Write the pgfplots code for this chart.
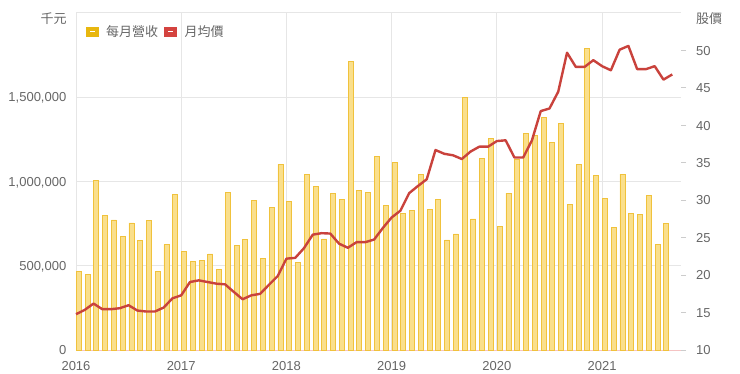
\documentclass[border=0pt]{standalone}
\usepackage{fontspec}
\setmainfont{Liberation Sans}
\newfontfamily\cjk{Noto Sans CJK TC}
\usepackage{pgfplots}
\pgfplotsset{compat=1.18}
\definecolor{txt}{HTML}{666666}
\definecolor{gridc}{HTML}{E6E6E6}
\definecolor{barfill}{HTML}{FADF8C}
\definecolor{barline}{HTML}{F0C23C}
\definecolor{legy}{HTML}{E8B70F}
\definecolor{legr}{HTML}{D4433F}
\definecolor{linec}{HTML}{C9423C}
\definecolor{basec}{HTML}{F5C3C3}
\definecolor{tickc}{HTML}{CCCCCC}
\begin{document}
\begin{tikzpicture}[x=1bp,y=1bp]
\useasboundingbox (0,0) rectangle (740,373);
\begin{axis}[
  at={(76bp,23bp)}, anchor=south west, scale only axis,
  width=605bp, height=337bp,
  xmin=0, xmax=69, ymin=0, ymax=2000000,
  axis x line*=bottom, axis y line*=left,
  x axis line style={draw=basec, line width=1bp, -},
  y axis line style={draw=none},
  xtick={0,12,24,36,48,60},
  xticklabels={2016,2017,2018,2019,2020,2021},
  ytick={0,500000,1000000,1500000,2000000},
  yticklabels={0,{500,000},{1,000,000},{1,500,000},{}},
  major tick length=0pt,
  grid=major, grid style={draw=gridc, line width=1bp},
  tick label style={font=\fontsize{13bp}{15bp}\selectfont, text=txt},
  yticklabel style={anchor=base east, inner sep=0pt, xshift=-9.5bp, yshift=-4.7bp},
  xticklabel style={anchor=north, inner sep=0pt, yshift=-11.5bp},
  ybar, bar width=5bp, bar shift=2.8bp,
  scaled y ticks=false,
]
\addplot[draw=barline, fill=barfill, line width=0.8bp] table[x=m, y=v] {
m v
0 467000
1 450000
2 1006000
3 798000
4 772000
5 673000
6 754000
7 648000
8 770000
9 467000
10 626000
11 925000
12 584000
13 523000
14 531000
15 570000
16 477000
17 935000
18 620000
19 655000
20 885000
21 541000
22 848000
23 1101000
24 881000
25 521000
26 1044000
27 972000
28 659000
29 927000
30 891000
31 1713000
32 945000
33 933000
34 1150000
35 857000
36 1111000
37 812000
38 826000
39 1042000
40 832000
41 895000
42 653000
43 689000
44 1499000
45 778000
46 1139000
47 1254000
48 733000
49 931000
50 1129000
51 1283000
52 1273000
53 1378000
54 1234000
55 1347000
56 865000
57 1099000
58 1788000
59 1034000
60 897000
61 727000
62 1044000
63 812000
64 802000
65 917000
66 624000
67 750000
};
\end{axis}
\begin{axis}[
  at={(76bp,23bp)}, anchor=south west, scale only axis,
  width=605bp, height=337bp,
  xmin=0, xmax=69, ymin=10, ymax=55,
  axis line style={draw=none},
  xtick=\empty,
  ytick={10,15,20,25,30,35,40,45,50},
  yticklabels={10,15,20,25,30,35,40,45,50},
  ytick pos=right, yticklabel pos=right,
  tick align=outside, major tick length=5bp,
  ytick style={draw=tickc, line width=0.8bp},
  tick label style={font=\fontsize{13bp}{15bp}\selectfont, text=txt},
  yticklabel style={anchor=base west, inner sep=0pt, xshift=10bp, yshift=-4.7bp},
  clip=false,
]
\addplot[draw=linec, line width=2.4bp, line join=round, mark=none] table[x=m, y=p] {
m p
0 14.78
1 15.36
2 16.2
3 15.45
4 15.45
5 15.58
6 15.98
7 15.27
8 15.14
9 15.14
10 15.67
11 16.9
12 17.3
13 19.08
14 19.3
15 19.08
16 18.86
17 18.77
18 17.75
19 16.78
20 17.3
21 17.5
22 18.7
23 19.87
24 22.2
25 22.3
26 23.6
27 25.4
28 25.6
29 25.55
30 24.2
31 23.65
32 24.4
33 24.4
34 24.75
35 26.3
36 27.7
37 28.6
38 30.95
39 31.9
40 32.8
41 36.7
42 36.2
43 36.0
44 35.5
45 36.5
46 37.15
47 37.15
48 37.9
49 38.0
50 35.7
51 35.7
52 38.0
53 41.9
54 42.25
55 44.5
56 49.7
57 47.8
58 47.8
59 48.7
60 47.9
61 47.35
62 50.1
63 50.6
64 47.5
65 47.5
66 47.9
67 46.1
68 46.8
};
\end{axis}
% axis titles
\node[anchor=east, inner sep=0pt, text=txt, font=\cjk\fontsize{13bp}{15bp}\selectfont] at (66.7,354.7) {千元};
\node[anchor=west, inner sep=0pt, text=txt, font=\cjk\fontsize{13bp}{15bp}\selectfont] at (696,354.7) {股價};
% legend
\fill[legy] (86,336.3) rectangle (99,346.3);
\fill[white] (90,340.5) rectangle (95,342.1);
\node[anchor=west, inner sep=0pt, text=txt, font=\cjk\fontsize{13bp}{15bp}\selectfont] at (106,341.3) {每月營收};
\fill[legr] (164,336.3) rectangle (177,346.3);
\fill[white] (168,340.5) rectangle (173,342.1);
\node[anchor=west, inner sep=0pt, text=txt, font=\cjk\fontsize{13bp}{15bp}\selectfont] at (184.5,341.3) {月均價};
\end{tikzpicture}
\end{document}
